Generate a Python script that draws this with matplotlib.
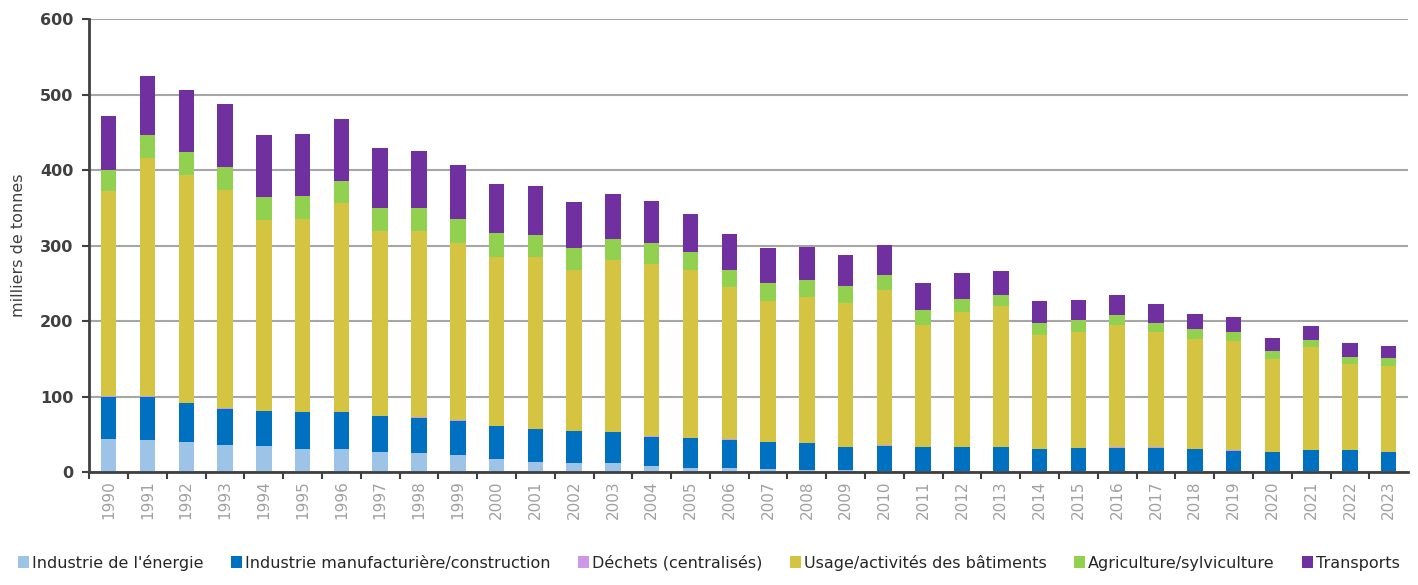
import numpy as np
import matplotlib
matplotlib.use("Agg")
import matplotlib.pyplot as plt

# Data (milliers de tonnes)
years = [str(y) for y in range(1990, 2024)]

energie = [44, 43, 40, 36, 34, 31, 31, 27, 25, 23, 18, 14, 12, 12, 8, 6, 5, 4, 3, 3,
           2, 2, 2, 2, 1.5, 1.5, 1.5, 1.5, 1.5, 1.5, 1, 1, 1, 1]
manufacturiere = [56, 57, 51, 48, 47, 48, 48, 47, 47, 45, 43, 43, 42, 41, 39, 39, 38, 36, 35, 30,
                  33, 31, 31, 31, 29, 30, 31, 31, 29, 27, 25, 28, 28, 25.5]
dechets = [0.5] * 34
usage = [271.5, 315.5, 302.5, 289.5, 252.7, 255.6, 276.4, 244.7, 246.2, 235.5, 223, 227, 212.5, 227.5,
         228, 221.5, 201, 186, 194, 190.5, 205.5, 161.5, 178, 186, 151, 154, 162, 152, 145, 144, 123.5,
         135.5, 113, 113]
agriculture = [28, 31, 30, 30, 30, 30, 30, 31, 31, 31, 32, 30, 30, 28, 28, 25, 23.5, 24, 22, 23,
               20, 19, 18, 15, 15, 15, 13, 13, 13, 12, 10, 10, 10, 10.5]
transports = [72, 77, 81.5, 84, 82, 83, 82, 79, 76, 72, 65, 64, 61, 59, 56, 50, 47, 46, 43, 40,
              40, 37, 34, 32, 29, 27, 26, 24, 21, 21, 17, 19, 18, 17]

series = [
    ("Industrie de l'énergie", energie, "#9DC3E6"),
    ("Industrie manufacturière/construction", manufacturiere, "#0070C0"),
    ("Déchets (centralisés)", dechets, "#CC99E8"),
    ("Usage/activités des bâtiments", usage, "#D4C441"),
    ("Agriculture/sylviculture", agriculture, "#92D050"),
    ("Transports", transports, "#7030A0"),
]

fig = plt.figure(figsize=(14.18, 5.85), dpi=100)
ax = fig.add_axes([0.063, 0.193, 0.930, 0.7745])

x = np.arange(len(years))
bottom = np.zeros(len(years))
for name, vals, color in series:
    vals = np.array(vals, dtype=float)
    ax.bar(x, vals, width=0.4, bottom=bottom, color=color, label=name, zorder=3)
    bottom += vals

ax.set_xlim(-0.5, len(years) - 0.5)
ax.set_ylim(0, 600)
ax.set_yticks(range(0, 601, 100))
ax.yaxis.grid(True, color="#A6A6A6", linewidth=1.5, zorder=0)

# category ticks between bars, labels centered under bars
ax.set_xticks(x - 0.5, minor=False)
ax.set_xticks(x, minor=True)
ax.set_xticklabels([])
ax.set_xticklabels(years, minor=True, rotation=90, color="#A0A0A0", fontsize=11)
ax.tick_params(axis="x", which="minor", length=0, pad=6)
ax.tick_params(axis="x", which="major", length=5, width=1.5, color="#404040", direction="out")
ax.tick_params(axis="y", length=5, width=1.5, color="#404040", labelsize=11.5,
               labelcolor="#404040", pad=6.5)
for lbl in ax.get_yticklabels():
    lbl.set_fontweight("bold")

for side in ["top", "right"]:
    ax.spines[side].set_visible(False)
ax.spines["left"].set_color("#404040")
ax.spines["left"].set_linewidth(2)
ax.spines["bottom"].set_color("#404040")
ax.spines["bottom"].set_linewidth(2)
ax.spines["bottom"].set_zorder(4)

ax.set_ylabel("milliers de tonnes", fontsize=11.5, color="#404040", labelpad=10)

fig.legend(loc="lower center", bbox_to_anchor=(0.5, 0.0), ncol=6, frameon=False,
           fontsize=11.5, handlelength=0.7, handleheight=0.7, handletextpad=0.2,
           columnspacing=1.7, labelcolor="#262626")

fig.savefig("out.png", dpi=100, facecolor="white")
